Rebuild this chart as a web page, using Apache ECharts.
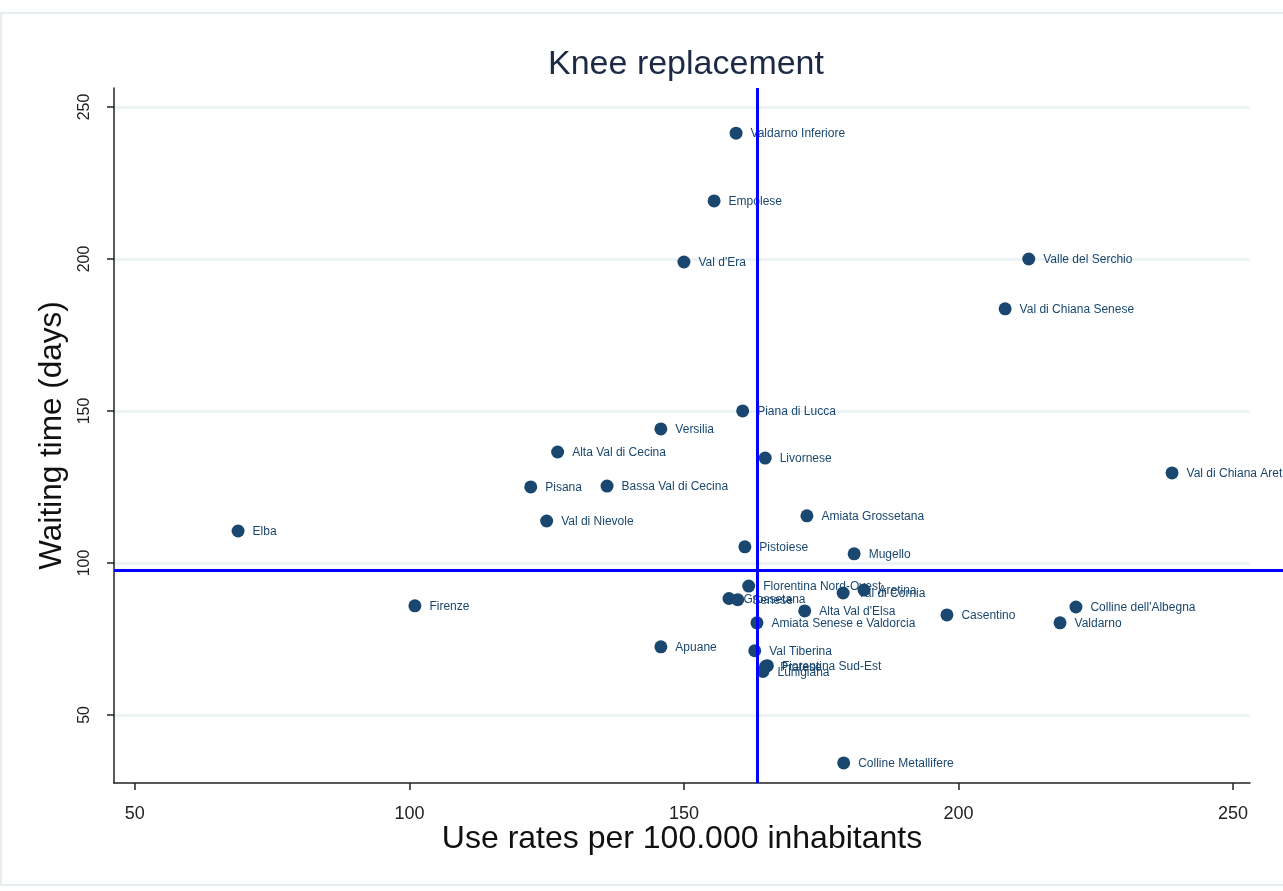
<!DOCTYPE html>
<html>
<head>
<meta charset="utf-8">
<title>Knee replacement</title>
<script src="https://cdn.jsdelivr.net/npm/echarts@6/dist/echarts.min.js"></script>
<style>
  html, body { margin: 0; padding: 0; background: #ffffff; }
  #chart { width: 1283px; height: 891px; }
</style>
</head>
<body>
<div id="chart"></div>
<script>
// Health zones of Tuscany: use rate (per 100.000 inhabitants) and waiting time (days)
const zones = [
  'Valdarno Inferiore', 'Empolese', "Val d'Era", 'Valle del Serchio', 'Val di Chiana Senese',
  'Piana di Lucca', 'Versilia', 'Alta Val di Cecina', 'Livornese', 'Val di Chiana Aretina',
  'Pisana', 'Bassa Val di Cecina', 'Amiata Grossetana', 'Val di Nievole', 'Elba',
  'Pistoiese', 'Mugello', 'Florentina Nord-Ovest', 'Aretina', 'Val di Cornia',
  'Grossetana', 'Senese', "Alta Val d'Elsa", 'Casentino', "Colline dell'Albegna",
  'Valdarno', 'Firenze', 'Amiata Senese e Valdorcia', 'Apuane', 'Val Tiberina',
  'Fiorentina Sud-Est', 'Pratese', 'Lunigiana', 'Colline Metallifere'
];
const useRates = [
  159.5, 155.5, 150.0, 212.8, 208.5,
  160.7, 145.8, 127.0, 164.8, 238.9,
  122.1, 136.0, 172.4, 125.0, 68.8,
  161.1, 181.0, 161.8, 182.8, 179.0,
  158.2, 159.8, 172.0, 197.9, 221.4,
  218.5, 101.0, 163.3, 145.8, 162.9,
  165.2, 164.9, 164.4, 179.1
];
const waitingDays = [
  241.4, 219.1, 199.0, 200.0, 183.6,
  150.0, 144.1, 136.5, 134.5, 129.6,
  125.0, 125.3, 115.5, 113.8, 110.5,
  105.3, 103.0, 92.4, 91.1, 90.1,
  88.3, 87.9, 84.2, 82.9, 85.5,
  80.3, 85.9, 80.3, 72.4, 71.1,
  66.2, 66.0, 64.3, 34.2
];
// Regional averages drawn as reference lines
const meanUseRate = 163.3;
const meanWaiting = 97.7;

const xTicks = [50, 100, 150, 200, 250];
const yTicks = [50, 100, 150, 200, 250];
const xRange = [46.2, 253.1];
const yRange = [27.6, 256.25];

const navy = '#1a476f';
const font = 'Liberation Sans, Arial, sans-serif';
const points = zones.map((name, i) => ({ name: name, value: [useRates[i], waitingDays[i]] }));

const chart = echarts.init(document.getElementById('chart'), null, { renderer: 'canvas' });
chart.setOption({
  animation: false,
  backgroundColor: '#ffffff',
  title: {
    text: 'Knee replacement',
    left: 681,
    textAlign: 'center',
    top: 43,
    textStyle: { fontFamily: font, fontSize: 34, fontWeight: 'normal', color: '#1c2a45' }
  },
  graphic: [{
    type: 'rect',
    shape: { x: 1, y: 13, width: 1290, height: 872 },
    style: { fill: 'none', stroke: '#e6eef0', lineWidth: 2 },
    silent: true,
    z: -1
  }],
  grid: [
    { left: 114, top: 88, right: 33, bottom: 108 },
    { left: 114, top: 88, right: 0, bottom: 108 }
  ],
  xAxis: [{
    gridIndex: 0,
    type: 'value',
    min: xRange[0],
    max: xRange[1],
    name: 'Use rates per 100.000 inhabitants',
    nameLocation: 'middle',
    nameGap: 40,
    nameMoveOverlap: false,
    nameTextStyle: { fontFamily: font, fontSize: 32, color: '#111' },
    axisLine: { show: true, onZero: false, lineStyle: { color: '#222', width: 1.5 } },
    axisTick: { show: true, length: 7, inside: false, customValues: xTicks, lineStyle: { color: '#222', width: 1.5 } },
    axisLabel: { customValues: xTicks, margin: 22, fontFamily: font, fontSize: 18, color: '#222' },
    splitLine: { show: false }
  }, {
    gridIndex: 1,
    type: 'value',
    min: xRange[0],
    max: xRange[0] + (xRange[1] - xRange[0]) * (1283 - 114) / (1250 - 114),
    show: false
  }],
  yAxis: [{
    gridIndex: 0,
    type: 'value',
    min: yRange[0],
    max: yRange[1],
    name: 'Waiting time (days)',
    nameLocation: 'middle',
    nameGap: 46,
    nameRotate: 90,
    nameTextStyle: { fontFamily: font, fontSize: 31.5, color: '#111' },
    axisLine: { show: true, onZero: false, lineStyle: { color: '#222', width: 1.5 } },
    axisTick: { show: true, length: 7, inside: false, customValues: yTicks, lineStyle: { color: '#222', width: 1.5 } },
    axisLabel: { customValues: yTicks, rotate: 90, margin: 21, fontFamily: font, fontSize: 16, color: '#222' },
    splitLine: { show: true, lineStyle: { color: '#eaf2f3', width: 2.5 } }
  }, {
    gridIndex: 1,
    type: 'value',
    min: yRange[0],
    max: yRange[1],
    show: false
  }],
  series: [{
    type: 'scatter',
    xAxisIndex: 0,
    yAxisIndex: 0,
    data: points,
    symbol: 'circle',
    symbolSize: 13,
    itemStyle: { color: navy, opacity: 1 },
    label: {
      show: true,
      position: 'right',
      distance: 8,
      offset: [0, 1],
      formatter: '{b}',
      fontFamily: font,
      fontSize: 12,
      color: navy
    },
    emphasis: { disabled: true },
    z: 3,
    markLine: {
      silent: true,
      symbol: ['none', 'none'],
      label: { show: false },
      lineStyle: { color: '#0000ff', width: 3, type: 'solid' },
      data: [{ xAxis: meanUseRate }]
    }
  }, {
    type: 'scatter',
    xAxisIndex: 1,
    yAxisIndex: 1,
    data: [],
    z: 2,
    markLine: {
      silent: true,
      symbol: ['none', 'none'],
      label: { show: false },
      lineStyle: { color: '#0000ff', width: 3, type: 'solid' },
      data: [{ yAxis: meanWaiting }]
    }
  }]
});
</script>
</body>
</html>
